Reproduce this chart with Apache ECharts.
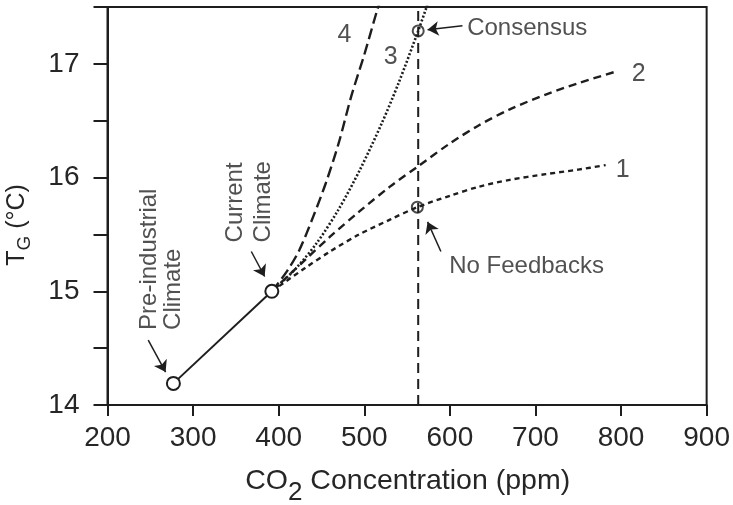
<!DOCTYPE html>
<html>
<head>
<meta charset="utf-8">
<script src="https://cdn.jsdelivr.net/npm/echarts@6/dist/echarts.min.js"></script>
<style>
html, body { margin: 0; padding: 0; background: #fff; }
#chart { width: 733px; height: 505px; }
</style>
</head>
<body>
<div id="chart"></div>
<script>
// Global mean surface temperature vs. CO2 concentration, with four feedback scenarios.

// Axis ticks
const xTicks = [200, 300, 400, 500, 600, 700, 800, 900];
const yTickLabels = [14, 15, 16, 17];

// Observed states [ppm, degC]
const preIndustrial = [277, 14.19];
const currentClimate = [392, 15.0];

// Doubled-CO2 reference line and the two marked outcomes on it
const doublingCO2 = 563;
const consensusPoint = [563, 17.29];
const noFeedbackPoint = [562, 15.74];

// Projected warming paths from the current climate
const curve1 = [[392, 15.0], [430, 15.2], [460, 15.35], [494, 15.5], [530, 15.63], [562, 15.74],
                [600, 15.84], [634, 15.92], [670, 15.98], [712, 16.03], [750, 16.07], [782, 16.11]];
const curve2 = [[392, 15.0], [430, 15.27], [460, 15.48], [494, 15.7], [530, 15.92], [563, 16.1],
                [600, 16.3], [634, 16.46], [670, 16.6], [712, 16.73], [750, 16.83], [793, 16.93]];
const curve3 = [[392, 15.0], [420, 15.2], [445, 15.43], [470, 15.72], [495, 16.07], [520, 16.47],
                [540, 16.83], [563, 17.29], [576, 17.57]];
const curve4 = [[392, 15.0], [410, 15.18], [424, 15.36], [440, 15.65], [455, 15.95], [470, 16.3],
                [485, 16.72], [500, 17.08], [515, 17.47], [522, 17.63]];

// Curve numbers [text, ppm, degC]
const curveTags = [['1', 802, 16.07], ['2', 820.6, 16.91], ['3', 531, 17.06], ['4', 476.8, 17.25]];

// Vertical (rotated) state notes, anchored at the start of each line [text, ppm, degC]
const stateNotes = [['Pre-industrial', 248.4, 14.66], ['Climate', 277.5, 14.66],
                    ['Current', 349.8, 15.43], ['Climate', 382.4, 15.43]];

// Horizontal outcome notes, anchored at their left edge [text, ppm, degC]
const outcomeNotes = [['Consensus', 620.2, 17.31], ['No Feedbacks', 599.2, 15.22]];

// Pointer arrows [tail, tip] in data units
const arrows = [
  [[247.6, 14.57], [267.9, 14.29]],
  [[368.0, 15.35], [383.6, 15.13]],
  [[614.7, 17.336], [574.0, 17.30]],
  [[589.5, 15.35], [574.0, 15.61]]
];

const INK = '#1e1e1e';
const TXT = '#262626';
const FONT = '"Liberation Sans", Arial, Helvetica, sans-serif';

function curveSeries(data, dash, width) {
  return {
    type: 'line', data: data, symbol: 'none', showSymbol: false, smooth: 0.3,
    lineStyle: { color: INK, width: width, type: dash }, z: 3, silent: true
  };
}

function noteSeries(notes, fontSize, rotate, align) {
  return {
    type: 'scatter', symbolSize: 1, silent: true, z: 6,
    itemStyle: { color: 'transparent' },
    data: notes.map(n => ({ value: [n[1], n[2]], name: n[0] })),
    label: {
      show: true, position: 'inside', formatter: p => p.name,
      color: TXT, fontSize: fontSize, fontFamily: FONT,
      rotate: rotate, align: align, verticalAlign: 'middle'
    }
  };
}

const chart = echarts.init(document.getElementById('chart'), null, { renderer: 'canvas' });

chart.setOption({
  animation: false,
  backgroundColor: '#fff',
  textStyle: { fontFamily: FONT },
  grid: {
    left: 107.5, right: 25, top: 7, bottom: 100,
    show: true, borderColor: INK, borderWidth: 2, backgroundColor: 'transparent'
  },
  xAxis: {
    type: 'value', min: xTicks[0], max: xTicks[xTicks.length - 1], interval: 100,
    axisLine: { show: true, lineStyle: { color: INK, width: 2 } },
    axisTick: { show: true, inside: false, length: 11, lineStyle: { color: INK, width: 2 } },
    axisLabel: { show: true, fontSize: 28, color: TXT, margin: 19, fontFamily: FONT },
    splitLine: { show: false }
  },
  yAxis: {
    type: 'value', min: 14, max: 17.5, interval: 0.5,
    axisLine: { show: true, lineStyle: { color: INK, width: 2 } },
    axisTick: { show: true, inside: false, length: 14, lineStyle: { color: INK, width: 2 } },
    axisLabel: {
      show: true, fontSize: 28, color: TXT, margin: 28, fontFamily: FONT,
      formatter: v => (yTickLabels.indexOf(v) >= 0 ? String(v) : '')
    },
    splitLine: { show: false }
  },
  graphic: [
    {
      type: 'text', x: 407.7, y: 481, silent: true,
      style: {
        text: '{m|CO}{s|2}{m| Concentration (ppm)}',
        align: 'center', verticalAlign: 'middle',
        rich: {
          m: { fontSize: 28.5, fontFamily: FONT, fill: TXT },
          s: { fontSize: 26, fontFamily: FONT, fill: TXT, padding: [24, 0, 0, 0] }
        }
      }
    },
    {
      type: 'text', x: 17, y: 225, rotation: Math.PI / 2, silent: true,
      style: {
        text: '{m|T}{s|G}{m| (°C)}',
        align: 'center', verticalAlign: 'middle',
        rich: {
          m: { fontSize: 25, fontFamily: FONT, fill: TXT },
          s: { fontSize: 19, fontFamily: FONT, fill: TXT, padding: [16, 0, 0, 0] }
        }
      }
    }
  ],
  series: [
    // doubled-CO2 reference
    {
      type: 'line', data: [[doublingCO2, 14], [doublingCO2, 17.5]], symbol: 'none',
      lineStyle: { color: INK, width: 2, type: [10, 6] }, z: 2, silent: true
    },
    curveSeries(curve1, [5, 4], 2.4),
    curveSeries(curve2, [8, 5], 2.4),
    curveSeries(curve3, [2, 2], 2.6),
    curveSeries(curve4, [11, 5], 2.4),
    // historical segment with open markers
    {
      type: 'line', data: [preIndustrial, currentClimate], symbol: 'circle', symbolSize: 13,
      showSymbol: true, lineStyle: { color: INK, width: 2 },
      itemStyle: { color: '#fff', borderColor: INK, borderWidth: 2 }, z: 5, silent: true
    },
    // outcomes at doubled CO2
    {
      type: 'scatter', data: [consensusPoint, noFeedbackPoint], symbol: 'circle', symbolSize: 11,
      itemStyle: { color: 'transparent', borderColor: INK, borderWidth: 2 }, z: 5, silent: true
    },
    // pointer arrows
    {
      type: 'lines', coordinateSystem: 'cartesian2d', silent: true, z: 6,
      data: arrows.map(a => ({ coords: a })),
      symbol: ['none', 'arrow'], symbolSize: [0, 11],
      lineStyle: { color: INK, width: 1.5, opacity: 1, curveness: 0 }
    },
    noteSeries(curveTags, 25, 0, 'center'),
    noteSeries(stateNotes, 24, 90, 'left'),
    noteSeries(outcomeNotes, 24, 0, 'left')
  ]
});
</script>
</body>
</html>
